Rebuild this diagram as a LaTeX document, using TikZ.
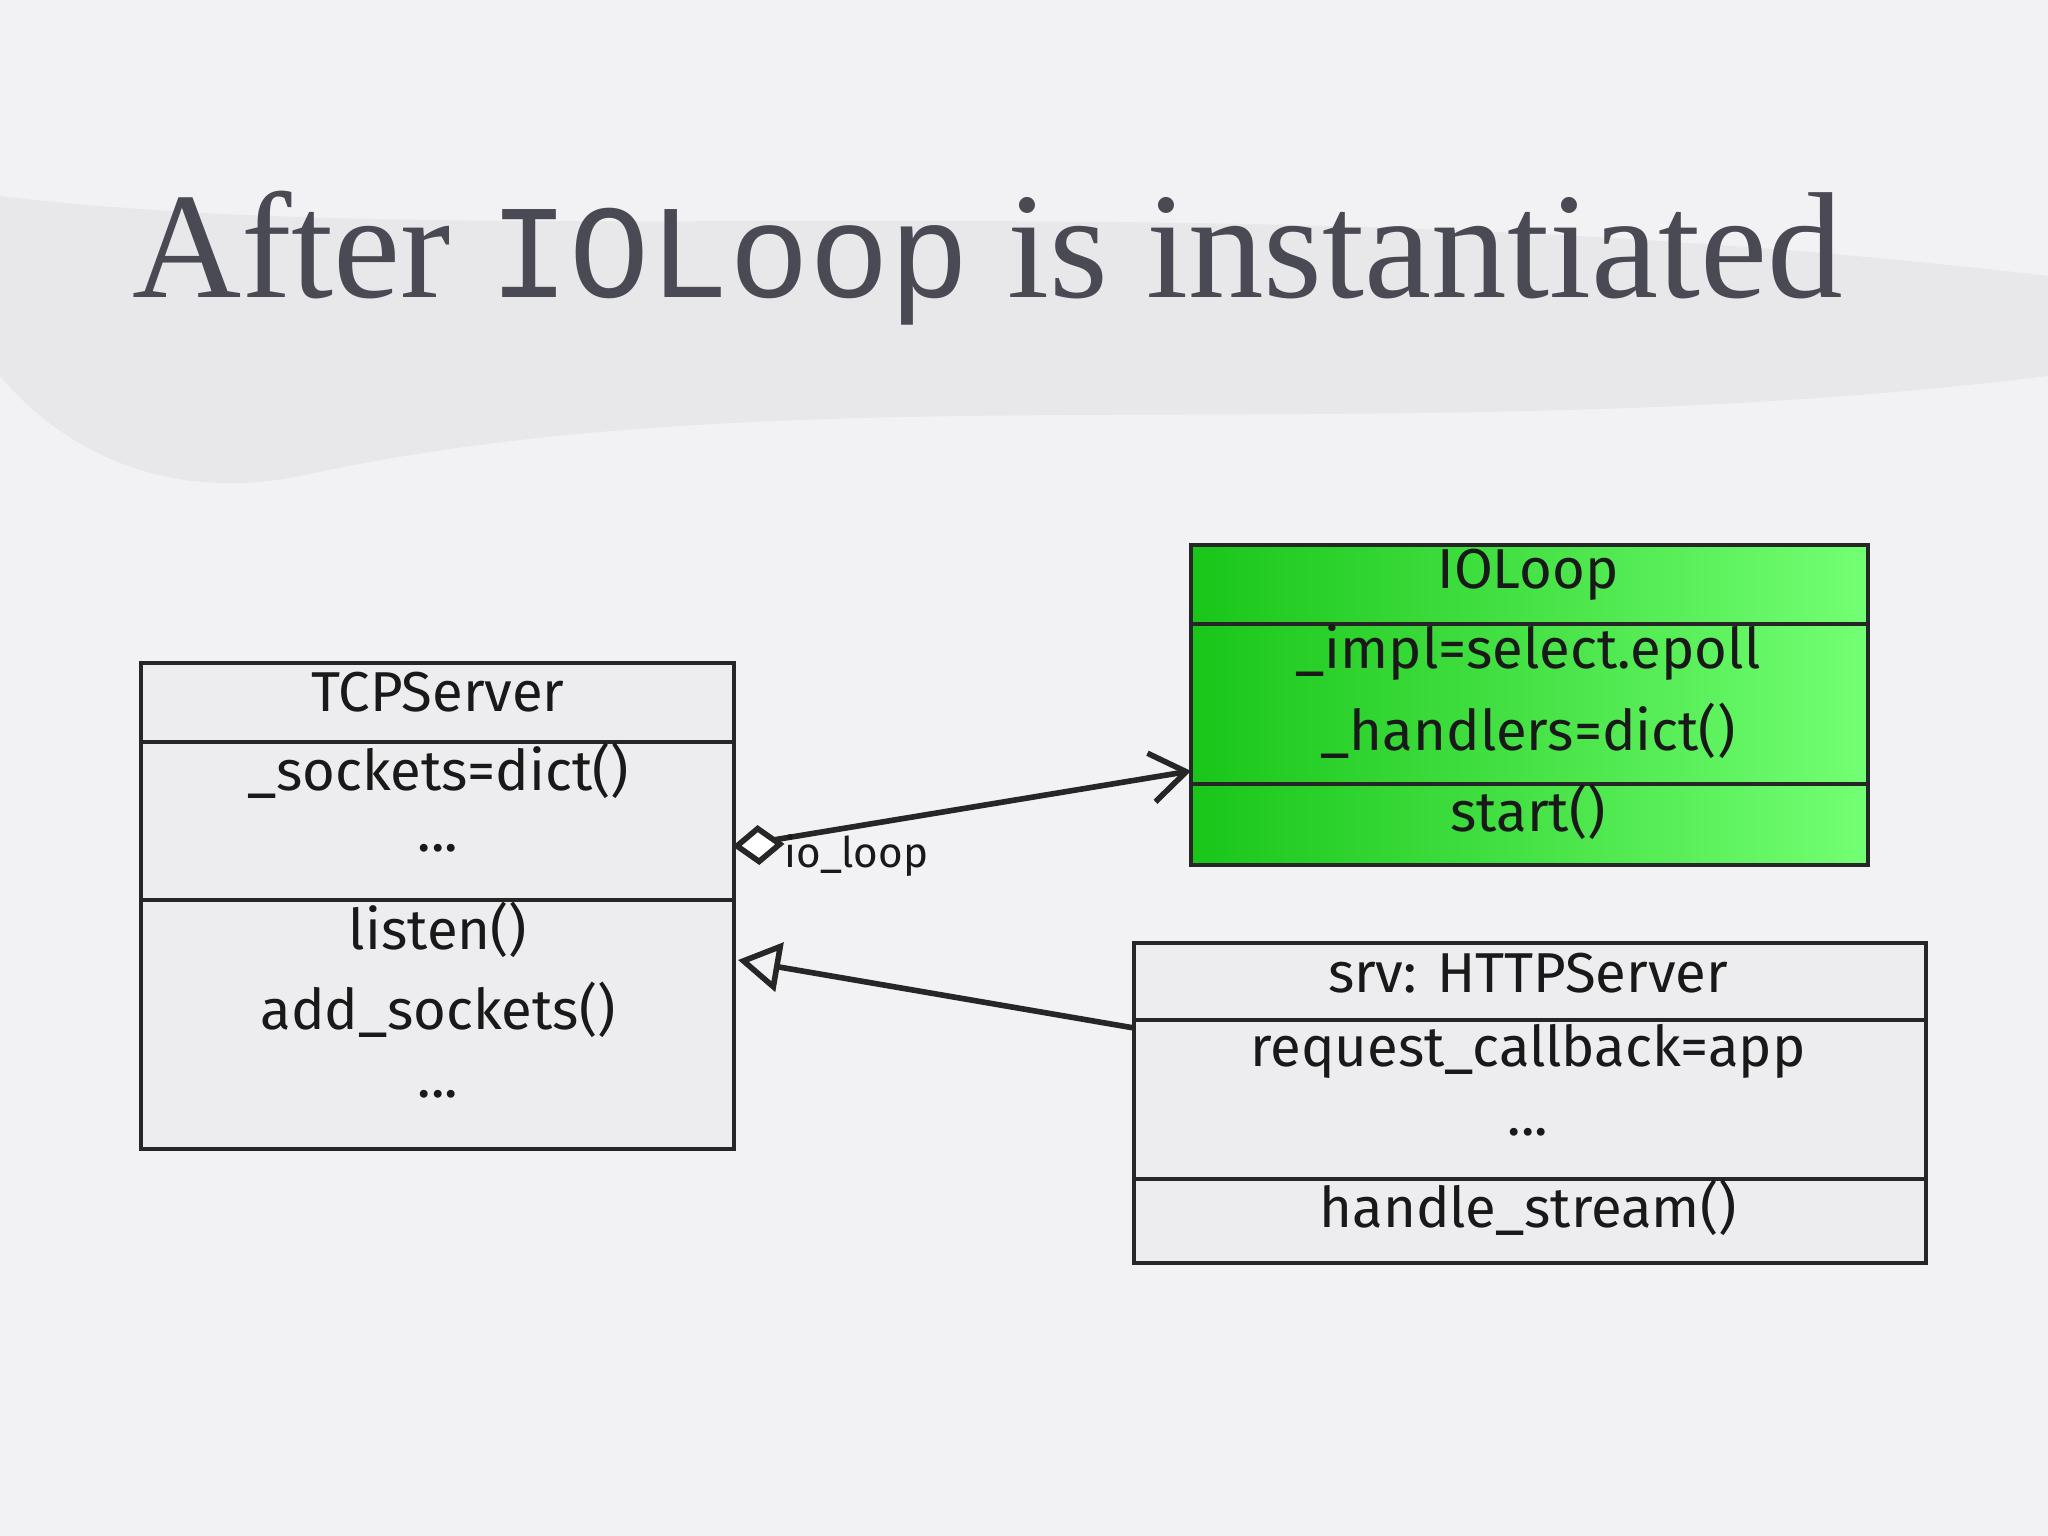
\documentclass[tikz,border=0pt]{standalone}
\usepackage{fontspec}
\setmainfont{Liberation Serif}
\newfontfamily\hand{Fira Sans}
\newfontfamily\mono{Liberation Mono}
\usetikzlibrary{arrows.meta,calc}
\definecolor{bg}{HTML}{F2F1F3}
\definecolor{brush}{HTML}{E8E7EA}
\definecolor{titlec}{HTML}{4A4A55}
\definecolor{boxg}{HTML}{EDEDEF}
\tikzset{
 cls/.style={draw=black!85,line width=1.4pt,rectangle,inner sep=0pt},
 lbl/.style={font=\hand\fontsize{16}{18}\selectfont,text=black!90},
 sep/.style={draw=black!85,line width=1.3pt},
 conn/.style={draw=black!85,line width=1.6pt}
}
\begin{document}
\begin{tikzpicture}
\fill[bg] (0,0) rectangle (20.48,15.36);
\fill[brush] (0,13.4) .. controls (5,12.8) and (12,13.6) .. (20.48,12.6) -- (20.48,11.6) .. controls (14,10.8) and (8,11.7) .. (3,10.6) .. controls (1.5,10.3) and (0.5,11.0) .. (0,11.6) -- cycle;
\useasboundingbox (0,0) rectangle (20.48,15.36);
\node[anchor=base west,text=titlec,font=\fontsize{43}{46}\selectfont] (title) at (1.2,12.38) {After {\mono\fontsize{38}{40}\selectfont IOLoop} is instantiated};
% TCPServer
\node[cls,fill=boxg,minimum width=5.93cm,minimum height=4.86cm] (tcp) at (4.375,6.30) {};
\draw[sep] (tcp.west |- 0,7.94) -- (tcp.east |- 0,7.94);
\draw[sep] (tcp.west |- 0,6.36) -- (tcp.east |- 0,6.36);
\node[lbl] (t1) at (4.38,8.44) {TCPServer};
\node[lbl] (t2) at (4.38,7.65) {\_sockets=dict()};
\node[lbl] (t3) at (4.38,6.88) {...};
\node[lbl] (t4) at (4.38,6.06) {listen()};
\node[lbl] (t5) at (4.38,5.26) {add\_sockets()};
\node[lbl] (t6) at (4.38,4.42) {...};
% IOLoop
\node[cls,left color=green!75!black!90,right color=green!55,minimum width=6.77cm,minimum height=3.20cm] (io) at (15.295,8.31) {};
\draw[sep] (io.west |- 0,9.12) -- (io.east |- 0,9.12);
\draw[sep] (io.west |- 0,7.52) -- (io.east |- 0,7.52);
\node[lbl] (i1) at (15.28,9.61) {IOLoop};
\node[lbl] (i2) at (15.28,8.83) {\_impl=select.epoll};
\node[lbl] (i3) at (15.28,8.05) {\_handlers=dict()};
\node[lbl] (i4) at (15.28,7.24) {start()};
% HTTPServer
\node[cls,fill=boxg,minimum width=7.92cm,minimum height=3.20cm] (http) at (15.30,4.33) {};
\draw[sep] (http.west |- 0,5.16) -- (http.east |- 0,5.16);
\draw[sep] (http.west |- 0,3.57) -- (http.east |- 0,3.57);
\node[lbl] (h1) at (15.28,5.63) {srv: HTTPServer};
\node[lbl] (h2) at (15.28,4.85) {request\_callback=app};
\node[lbl] (h3) at (15.28,4.04) {...};
\node[lbl] (h4) at (15.28,3.28) {handle\_stream()};
% connectors
\coordinate (aggS) at (7.37,6.90);
\coordinate (aggE) at (11.91,7.65);
\draw[conn,-{Straight Barb[length=10pt,width=14pt]}] (aggS) -- (aggE);
\draw[conn,fill=white] (aggS) -- ++(40:0.27) -- ++(-35:0.27) -- ++(-140:0.27) -- cycle;
\node[lbl,font=\hand\fontsize{12}{14}\selectfont,anchor=west] (lab) at (7.72,6.80) {io\_loop};
\coordinate (genS) at (11.34,5.08);
\coordinate (genE) at (7.38,5.76);
\draw[conn,-{Triangle[open,length=12pt,width=14pt]}] (genS) -- (genE);
\end{tikzpicture}
\end{document}
